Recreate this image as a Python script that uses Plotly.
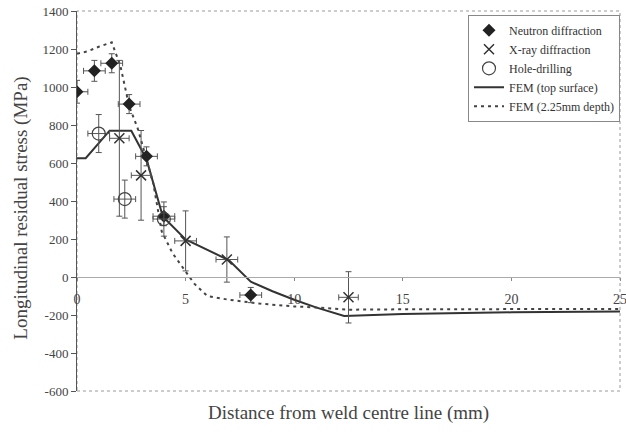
import plotly.graph_objects as go

# Measured residual stress, longitudinal component (MPa) vs distance from weld centre line (mm)
neutron_x = [0.0, 0.8, 1.6, 2.4, 3.2, 4.0, 8.0]
neutron_y = [975, 1085, 1125, 910, 635, 320, -95]
neutron_err_y = [60, 55, 50, 50, 50, 50, 40]
neutron_err_x = [0.5, 0.5, 0.5, 0.5, 0.5, 0.5, 0.5]

xray_x = [1.95, 2.95, 5.0, 6.9, 12.5]
xray_y = [730, 535, 190, 92, -107]
xray_err_y = [410, 236, 158, 119, 135]
xray_err_x = [0.45, 0.45, 0.5, 0.5, 0.45]

hole_x = [1.0, 2.2, 4.0]
hole_y = [755, 410, 305]
hole_err_y = [100, 100, 90]
hole_err_x = [0.5, 0.5, 0.5]

# Finite element predictions
fem_top_x = [0, 0.4, 1.5, 2.5, 3.2, 3.95, 5.0, 6.0, 7.0, 8.0, 9.0, 10.0, 11.0, 12.3, 15, 20, 25]
fem_top_y = [625, 625, 770, 770, 620, 318, 198, 145, 88, -25, -75, -120, -160, -205, -195, -186, -182]

fem_depth_x = [0, 0.5, 1.0, 1.6, 2.0, 2.4, 2.8, 3.2, 3.5, 3.7, 3.9, 4.4, 5.0, 5.4, 6.0, 7.0, 8.4, 10.0, 11.0, 12.5, 15, 20, 25]
fem_depth_y = [1175, 1188, 1212, 1235, 1110, 900, 780, 615, 500, 370, 240, 125, 30, -35, -100, -120, -140, -155, -160, -172, -170, -168, -168]

x_ticks = [0, 5, 10, 15, 20, 25]
y_ticks = [-600, -400, -200, 0, 200, 400, 600, 800, 1000, 1200, 1400]

FONT = "Liberation Serif"
TEXT = "#444"
BAR = "#555"

fig = go.Figure()

fig.add_trace(go.Scatter(
    x=fem_top_x, y=fem_top_y, mode="lines", name="FEM (top surface)",
    line=dict(color="#333", width=2), legendrank=4))
fig.add_trace(go.Scatter(
    x=fem_depth_x, y=fem_depth_y, mode="lines", name="FEM (2.25mm depth)",
    line=dict(color="#444", width=2, dash="3px,4px"), legendrank=5))

fig.add_trace(go.Scatter(
    x=neutron_x, y=neutron_y, mode="markers", name="Neutron diffraction",
    marker=dict(symbol="diamond", size=10, color="#222"),
    error_y=dict(type="data", array=neutron_err_y, color=BAR, thickness=1, width=3),
    error_x=dict(type="data", array=neutron_err_x, color=BAR, thickness=1, width=3),
    legendrank=1))
fig.add_trace(go.Scatter(
    x=xray_x, y=xray_y, mode="markers", name="X-ray diffraction",
    marker=dict(symbol="x-thin", size=10, color="#333", line=dict(width=1.5, color="#333")),
    error_y=dict(type="data", array=xray_err_y, color=BAR, thickness=1, width=3),
    error_x=dict(type="data", array=xray_err_x, color=BAR, thickness=1, width=3),
    legendrank=2))
fig.add_trace(go.Scatter(
    x=hole_x, y=hole_y, mode="markers", name="Hole-drilling",
    marker=dict(symbol="circle-open", size=13, color="#444", line=dict(width=1.2)),
    error_y=dict(type="data", array=hole_err_y, color=BAR, thickness=1, width=3),
    error_x=dict(type="data", array=hole_err_x, color=BAR, thickness=1, width=3),
    legendrank=3))

# Dotted plot-area frame
fig.add_shape(type="rect", xref="paper", yref="paper", x0=0, y0=0, x1=1, y1=1,
              line=dict(color="#999", width=1, dash="dot"), layer="below")

fig.update_layout(
    width=626, height=432,
    margin=dict(l=77, r=6, t=11, b=41, autoexpand=False),
    paper_bgcolor="white", plot_bgcolor="white",
    font=dict(family=FONT, color=TEXT, size=13),
    showlegend=True,
    legend=dict(x=1, y=0.99, xanchor="right", yanchor="top",
                bordercolor="#888", borderwidth=1, bgcolor="white",
                font=dict(family=FONT, size=12, color="#333"),
                tracegroupgap=0, itemwidth=30),
    xaxis=dict(range=[0, 25], tickvals=x_ticks, ticktext=[str(v) for v in x_ticks],
               anchor="free", position=0.3, showgrid=False, zeroline=False,
               showline=True, linecolor="#aaa", linewidth=1,
               ticks="outside", ticklen=3, tickcolor="#888",
               ticklabelstandoff=6, ticklabeloverflow="allow", automargin=False,
               tickfont=dict(family=FONT, size=14, color=TEXT)),
    yaxis=dict(range=[-600, 1400], tickvals=y_ticks, ticktext=[str(v) for v in y_ticks],
               showgrid=False, zeroline=False, showline=True, linecolor="#555",
               linewidth=1, ticks="outside", ticklen=5, tickcolor="#555",
               automargin=False,
               tickfont=dict(family=FONT, size=13, color=TEXT)),
    annotations=[
        dict(text="Longitudinal residual stress (MPa)", xref="paper", yref="paper",
             x=-0.103, y=0.48, textangle=-90, showarrow=False,
             xanchor="center", yanchor="middle",
             font=dict(family=FONT, size=19, color=TEXT)),
        dict(text="Distance from weld centre line (mm)", xref="paper", yref="paper",
             x=0.5, y=-0.058, showarrow=False, xanchor="center", yanchor="middle",
             font=dict(family=FONT, size=19, color=TEXT)),
    ],
)

fig.write_html("out.html")
